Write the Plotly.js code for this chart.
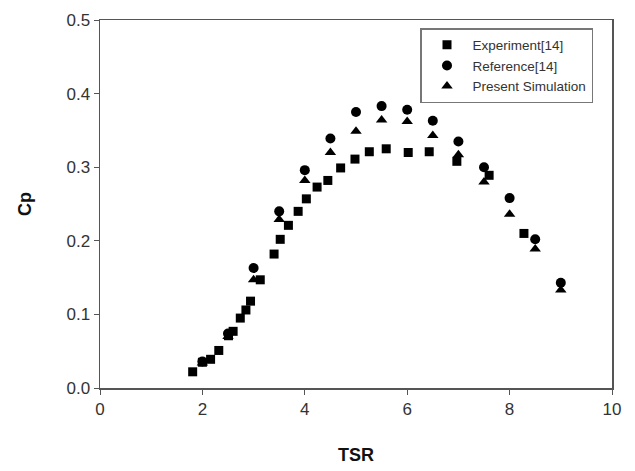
<!DOCTYPE html>
<html>
<head>
<meta charset="utf-8">
<script src="https://cdn.plot.ly/plotly-3.0.1.min.js"></script>
<style>html,body{margin:0;padding:0;background:#fff;}#chart{width:635px;height:471px;}</style>
</head>
<body>
<div id="chart"></div>
<script>
// Experiment[14]
const expTSR = [1.81, 2.0, 2.16, 2.32, 2.51, 2.6, 2.74, 2.85, 2.94, 3.13, 3.40, 3.52, 3.68, 3.87, 4.03, 4.24, 4.45, 4.70, 4.98, 5.26, 5.59, 6.02, 6.43, 6.97, 7.6, 8.28];
const expCp  = [0.022, 0.035, 0.039, 0.051, 0.071, 0.077, 0.095, 0.106, 0.118, 0.147, 0.182, 0.202, 0.221, 0.240, 0.257, 0.273, 0.282, 0.299, 0.311, 0.321, 0.325, 0.320, 0.321, 0.308, 0.289, 0.210];
// Reference[14]
const refTSR = [2.0, 2.5, 3.0, 3.5, 4.0, 4.5, 5.0, 5.5, 6.0, 6.5, 7.0, 7.5, 8.0, 8.5, 9.0];
const refCp  = [0.036, 0.074, 0.163, 0.240, 0.296, 0.339, 0.375, 0.383, 0.378, 0.363, 0.335, 0.300, 0.258, 0.202, 0.143];
// Present Simulation
const simTSR = [2.0, 2.5, 3.0, 3.5, 4.0, 4.5, 5.0, 5.5, 6.0, 6.5, 7.0, 7.5, 8.0, 8.5, 9.0];
const simCp  = [0.034, 0.070, 0.147, 0.229, 0.282, 0.320, 0.349, 0.364, 0.362, 0.343, 0.317, 0.280, 0.236, 0.189, 0.133];

const xTicks = [0, 2, 4, 6, 8, 10];
const yTicks = [0.0, 0.1, 0.2, 0.3, 0.4, 0.5];
const yTickText = ['0.0', '0.1', '0.2', '0.3', '0.4', '0.5'];

const font = 'Arial, "Liberation Sans", sans-serif';

const traces = [
  {x: expTSR, y: expCp, mode: 'markers', type: 'scatter', name: 'Experiment[14]',
   marker: {symbol: 'square', size: 9, color: '#000'}},
  {x: refTSR, y: refCp, mode: 'markers', type: 'scatter', name: 'Reference[14]',
   marker: {symbol: 'circle', size: 10, color: '#000'}},
  {x: simTSR, y: simCp, mode: 'markers', type: 'scatter', name: 'Present Simulation',
   marker: {symbol: 'triangle-up', size: 10, color: '#000'}}
];

const layout = {
  width: 635, height: 471,
  margin: {l: 100, r: 23, t: 20, b: 83},
  paper_bgcolor: '#fff', plot_bgcolor: '#fff',
  font: {family: font, color: '#222'},
  showlegend: true,
  legend: {
    x: 0.625, y: 0.978, xanchor: 'left', yanchor: 'top',
    bgcolor: '#fff', bordercolor: '#777', borderwidth: 1.5,
    font: {family: font, size: 13.5, color: '#333'},
    tracegroupgap: 0, itemwidth: 41
  },
  xaxis: {
    range: [0, 10], tickvals: xTicks, ticktext: xTicks.map(String),
    showgrid: false, zeroline: false,
    showline: true, linecolor: '#555', linewidth: 1.5, mirror: true,
    ticks: 'outside', ticklen: 5, tickcolor: '#555', tickwidth: 1,
    tickfont: {family: font, size: 17, color: '#333'},
    title: {text: '<b>TSR</b>', font: {family: font, size: 18, color: '#111'}, standoff: 30}
  },
  yaxis: {
    range: [0, 0.5], tickvals: yTicks, ticktext: yTickText,
    showgrid: false, zeroline: false,
    showline: true, linecolor: '#555', linewidth: 1.5, mirror: true,
    ticks: 'outside', ticklen: 5, tickcolor: '#555', tickwidth: 1,
    tickfont: {family: font, size: 17, color: '#333'},
    title: {text: '<b>Cp</b>', font: {family: font, size: 18, color: '#111'}, standoff: 30}
  }
};

Plotly.newPlot('chart', traces, layout, {displayModeBar: false, staticPlot: true});
</script>
</body>
</html>
